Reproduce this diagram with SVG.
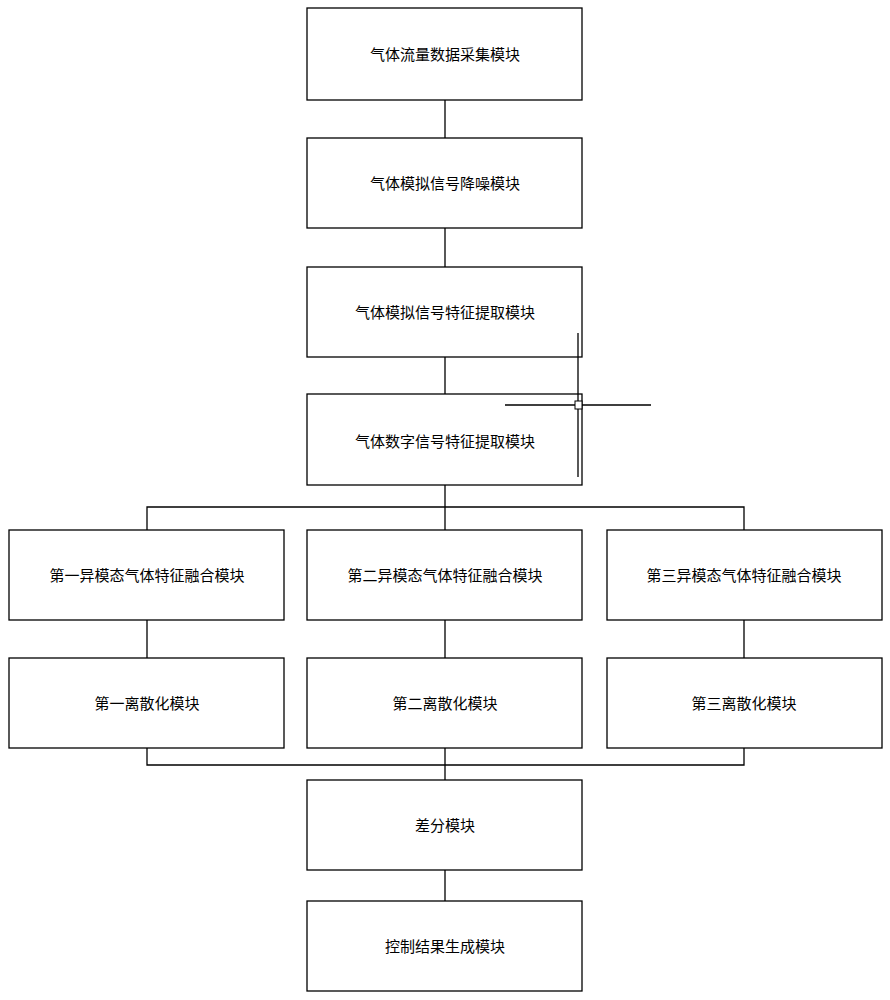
<svg xmlns="http://www.w3.org/2000/svg" width="890" height="1000" viewBox="0 0 890 1000">
<style>
.b{fill:#fff;stroke:#000;stroke-width:1.3}
.t{font-family:"Liberation Sans","Noto Sans CJK SC",sans-serif;font-size:15px;text-anchor:middle;dominant-baseline:central;fill:#000}
.c{stroke:#000;stroke-width:1.3;fill:none}
</style>
<rect width="890" height="1000" fill="#fff"/>
<g id="connectors">
<path class="c" d="M445 100V138M445 228V267M445 357V394M445 485V507M147 530V507H744V530M445 507V530M147 620V658M445 620V658M744 620V658M147 748V765H744V748M445 748V780M445 870V901"/>
</g>
<g id="n1"><rect class="b" x="307" y="8" width="275" height="92"/><text class="t" x="445" y="54">气体流量数据采集模块</text></g>
<g id="n2"><rect class="b" x="307" y="138" width="275" height="90"/><text class="t" x="445" y="183">气体模拟信号降噪模块</text></g>
<g id="n3"><rect class="b" x="307" y="267" width="275" height="90"/><text class="t" x="445" y="312">气体模拟信号特征提取模块</text></g>
<g id="n4"><rect class="b" x="307" y="394" width="275" height="91"/><text class="t" x="445" y="441">气体数字信号特征提取模块</text></g>
<g id="n5"><rect class="b" x="9" y="530" width="275" height="90"/><text class="t" x="147" y="575">第一异模态气体特征融合模块</text></g>
<g id="n6"><rect class="b" x="307" y="530" width="275" height="90"/><text class="t" x="445" y="575">第二异模态气体特征融合模块</text></g>
<g id="n7"><rect class="b" x="607" y="530" width="275" height="90"/><text class="t" x="744" y="575">第三异模态气体特征融合模块</text></g>
<g id="n8"><rect class="b" x="9" y="658" width="275" height="90"/><text class="t" x="147" y="703">第一离散化模块</text></g>
<g id="n9"><rect class="b" x="307" y="658" width="275" height="90"/><text class="t" x="445" y="703">第二离散化模块</text></g>
<g id="n10"><rect class="b" x="607" y="658" width="275" height="90"/><text class="t" x="744" y="703">第三离散化模块</text></g>
<g id="n11"><rect class="b" x="307" y="780" width="275" height="90"/><text class="t" x="445" y="825">差分模块</text></g>
<g id="n12"><rect class="b" x="307" y="901" width="275" height="90"/><text class="t" x="445" y="946">控制结果生成模块</text></g>
<g id="cursor"><path class="c" d="M578 333V477M505 405H651"/><rect x="575" y="401" width="7" height="8" fill="#fff" stroke="#000"/></g>
</svg>
